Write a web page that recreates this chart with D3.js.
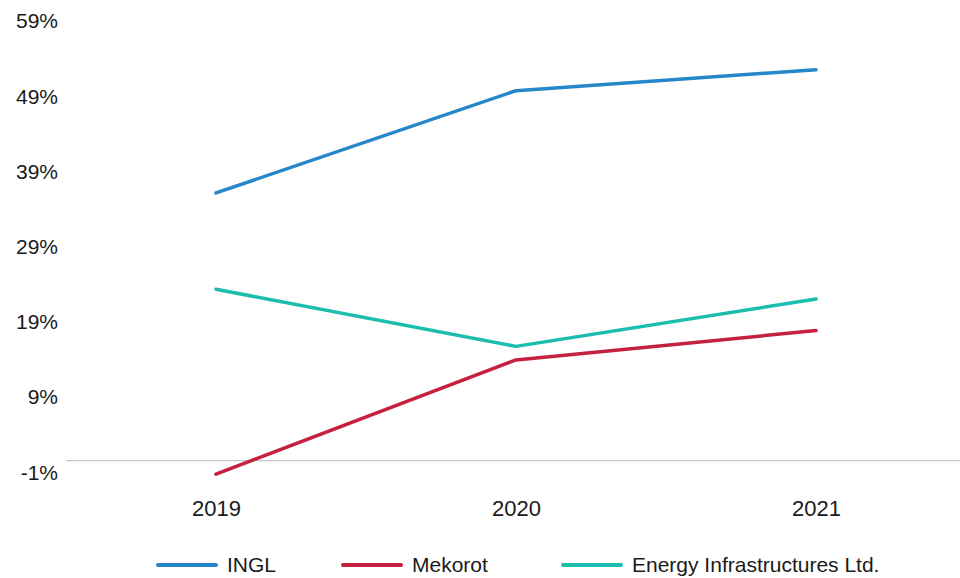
<!DOCTYPE html>
<html>
<head>
<meta charset="utf-8">
<script src="https://cdn.jsdelivr.net/npm/d3@7"></script>
<style>
  body { margin: 0; background: #fff; }
  text { font-family: "Liberation Sans", Arial, sans-serif; fill: #1a1a1a; }
</style>
</head>
<body>
<div id="chart"></div>
<script>
// data
const years = ["2019", "2020", "2021"];
const ingl = [35.6, 49.2, 52.0];
const mekorot = [-1.8, 13.4, 17.3];
const energyInfra = [22.8, 15.2, 21.5];
const yTicks = [-1, 9, 19, 29, 39, 49, 59];

const seriesList = [
    { name: "INGL", values: ingl, color: "#2586c9" },
    { name: "Mekorot", values: mekorot, color: "#c6203f" },
    { name: "Energy Infrastructures Ltd.", values: energyInfra, color: "#1bbdad" }
];

const width = 960, height = 578;
const svg = d3.select("#chart")
    .append("svg")
    .attr("width", width)
    .attr("height", height);

// x: three bands, points in the middle of each
const x = d3.scalePoint()
    .domain(years)
    .range([216, 816]);

const y = d3.scaleLinear()
    .domain([-1, 59])
    .range([468.2, 17]);

// y labels (no gridlines)
svg.append("g")
    .selectAll("text")
    .data(yTicks)
    .enter()
    .append("text")
    .attr("x", 58)
    .attr("y", d => y(d) + 4)
    .attr("dy", "0.35em")
    .attr("text-anchor", "end")
    .style("font-size", "21px")
    .text(d => d + "%");

// zero line
svg.append("line")
    .attr("x1", 66)
    .attr("x2", width)
    .attr("y1", y(0))
    .attr("y2", y(0))
    .attr("stroke", "#c6c6d4")
    .attr("stroke-width", 1.2);

// x labels
const xAxis = svg.append("g")
    .attr("transform", "translate(0,498)")
    .call(d3.axisBottom(x).tickSize(0).tickPadding(0));
xAxis.select(".domain").remove();
xAxis.selectAll("text")
    .attr("dy", "0.35em")
    .attr("y", 10)
    .style("font-size", "22px")
    .style("font-family", "\"Liberation Sans\", Arial, sans-serif")
    .attr("fill", "#1a1a1a");

// lines
const line = d3.line()
    .x((d, i) => x(years[i]))
    .y(d => y(d));

svg.append("g")
    .selectAll("path")
    .data(seriesList)
    .enter()
    .append("path")
    .attr("d", d => line(d.values))
    .attr("fill", "none")
    .attr("stroke", d => d.color)
    .attr("stroke-width", 3.5)
    .attr("stroke-linecap", "round")
    .attr("stroke-linejoin", "round");

// legend
const legendX = [158, 343, 563];
const legend = svg.append("g")
    .selectAll("g")
    .data(seriesList)
    .enter()
    .append("g")
    .attr("transform", (d, i) => "translate(" + legendX[i] + ",565)");
legend.append("line")
    .attr("x1", 0)
    .attr("x2", 58)
    .attr("stroke", d => d.color)
    .attr("stroke-width", 4)
    .attr("stroke-linecap", "round");
legend.append("text")
    .attr("x", 69)
    .attr("dy", "0.35em")
    .style("font-size", "21px")
    .text(d => d.name);
</script>
</body>
</html>
